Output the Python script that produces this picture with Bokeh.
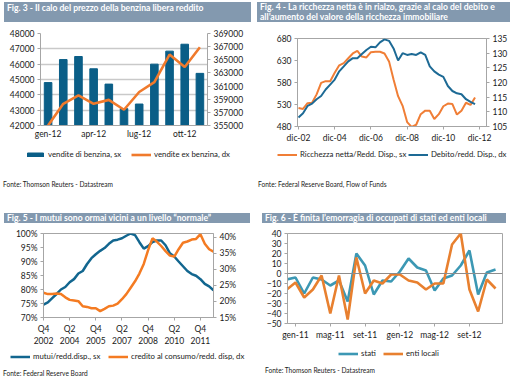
from bokeh.plotting import figure
from bokeh.models import (Range1d, LinearAxis, Legend, LegendItem, Div, FixedTicker,
                          NumeralTickFormatter, Span, Spacer)
from bokeh.layouts import column, row
from bokeh.embed import file_html
from bokeh.resources import INLINE

FONT = "Lato"
TITLE_BG = "#8399AF"
AX = "#A6A6A6"

# ---------------- data ----------------
# Fig. 3
months3 = ["gen-12", "feb-12", "mar-12", "apr-12", "mag-12", "giu-12",
           "lug-12", "ago-12", "set-12", "ott-12", "nov-12"]
benzina = [44800, 46300, 46500, 45700, 44700, 43100, 43400, 46000, 46850, 47300, 45400]
ex_benzina = [355000, 358300, 359600, 358300, 358900, 357400, 360100, 361600, 365800, 363900, 366900]

# Fig. 4 (quarterly, dic-02 .. set-12)
ricchezza = [522, 520, 533, 534, 553, 579, 583, 583, 602, 619, 624, 635, 646, 652,
             639, 637, 649, 650, 650, 646, 628, 587, 549, 527, 490, 479, 484, 508,
             516, 516, 497, 508, 526, 532, 531, 507, 516, 534, 529, 546]
debito = [108.1, 109.5, 112.0, 112.8, 114.3, 115.4, 117.6, 119.3, 121.0, 123.8, 125.5,
          127.2, 128.3, 128.3, 129.7, 131.1, 132.2, 132.0, 133.7, 134.7, 134.2, 131.6,
          127.5, 130.0, 129.4, 129.7, 129.4, 130.3, 129.4, 125.5, 123.8, 122.7, 121.9,
          118.8, 117.1, 116.3, 116.0, 114.3, 113.4, 112.6]
x4_ticks = ["dic-02", "dic-04", "dic-06", "dic-08", "dic-10", "dic-12"]

# Fig. 5 (quarterly, Q4 2002 .. Q3 2012)
mutui = [74.6, 75.4, 76.9, 78.4, 80.0, 80.9, 82.6, 83.7, 85.7, 86.6, 89.1, 91.2, 92.6,
         93.8, 94.8, 96.3, 97.5, 97.8, 98.3, 99.2, 100.0, 99.4, 96.9, 94.6, 95.5, 96.9,
         97.5, 97.5, 95.8, 92.9, 91.8, 90.0, 88.3, 86.6, 85.5, 84.9, 83.7, 82.0, 81.1, 79.7]
credito = [22.7, 22.3, 22.3, 22.5, 22.3, 21.3, 20.5, 20.3, 20.1, 18.5, 18.3, 17.9, 17.9,
           17.0, 17.7, 18.5, 18.7, 19.3, 20.7, 22.3, 24.3, 26.3, 28.7, 31.7, 36.0, 39.7,
           38.7, 37.3, 35.7, 34.3, 34.0, 36.3, 38.3, 38.7, 39.3, 39.5, 41.0, 38.0, 36.3, 35.5]
x5_ticks = ["Q4\n2002", "Q2\n2004", "Q4\n2005", "Q2\n2007", "Q4\n2008", "Q2\n2010", "Q4\n2011"]

# Fig. 6 (monthly, dic-10 .. dic-12)
months6 = ["dic-10",
           "gen-11", "feb-11", "mar-11", "apr-11", "mag-11", "giu-11", "lug-11", "ago-11",
           "set-11", "ott-11", "nov-11", "dic-11",
           "gen-12", "feb-12", "mar-12", "apr-12", "mag-12", "giu-12", "lug-12", "ago-12",
           "set-12", "ott-12", "nov-12", "dic-12"]
stati = [-6, -4, -20, -4, -6, -12, -7, -28, 20, 8, -21, -7, -8,
         2, 15, 6, 3, -17, -5, -2, 8, 23, -21, 1, 4]
enti_locali = [-16, -9, -24, -16, -2, -40, -2, -46, 16, -20, -7, -10, -1,
               -1, -7, -9, -16, -10, -10, 29, 40, -16, -38, -6, -15]


# ---------------- helpers ----------------
def style_axis(ax, size="8.5px"):
    ax.major_label_text_font = FONT
    ax.major_label_text_font_size = size
    ax.major_label_text_color = "#1a1a1a"
    ax.axis_line_color = AX
    ax.major_tick_line_color = AX
    ax.major_tick_in = 0
    ax.major_tick_out = 3
    ax.minor_tick_line_color = None
    ax.major_label_standoff = 3


def title_div(html, top, left, width, height, lh):
    return Div(text=(f'<div style="padding:{top}px 0 0 {left}px;margin:0">'
                     f'<div style="width:{width}px;height:{height}px;background:{TITLE_BG};'
                     f'color:white;font-family:{FONT};font-weight:bold;font-size:8.6px;'
                     f'line-height:{lh}px;padding:0 3px;box-sizing:border-box;'
                     f'white-space:nowrap;overflow:hidden">{html}</div></div>'),
               width=255, height=top + height, margin=(0, 0, 0, 0))


def source_div(text, top, left, height):
    return Div(text=(f'<div style="padding:{top}px 0 0 {left}px;font-family:{FONT};'
                     f'font-size:6.6px;color:#222;line-height:8px;white-space:nowrap">{text}</div>'),
               width=255, height=height, margin=(0, 0, 0, 0))


def legend_item_fig(width, height, label, kind, color, lw):
    """A small axis-less figure that carries one legend entry."""
    lf = figure(width=width, height=height, x_range=Range1d(0, 1), y_range=Range1d(0, 1),
                x_axis_type=None, y_axis_type=None, output_backend="svg",
                toolbar_location=None, min_border_left=0, min_border_right=0,
                min_border_top=0, min_border_bottom=0)
    lf.outline_line_color = None
    lf.xgrid.grid_line_color = None
    lf.ygrid.grid_line_color = None
    # swatch renderer holds points placed outside the visible range
    if kind == "bar":
        r = lf.vbar(x=[-5], top=[-5], bottom=[-6], width=0.1, color=color)
    else:
        r = lf.line(x=[-5, -4], y=[-5, -5], color=color, line_width=lw)
    leg = Legend(items=[LegendItem(label=label, renderers=[r])], location="left")
    leg.label_text_font = FONT
    leg.label_text_font_size = "7.8px"
    leg.label_text_color = "#1a1a1a"
    leg.glyph_width = 20
    leg.glyph_height = 5
    leg.label_height = 9
    leg.label_standoff = 3
    leg.padding = 0
    leg.margin = 0
    leg.border_line_color = None
    leg.background_fill_alpha = 0
    lf.add_layout(leg)
    return lf


def legend_row(height, lead, entries):
    kids = [Spacer(width=lead, height=height)]
    for width, label, kind, color, lw in entries:
        kids.append(legend_item_fig(width, height, label, kind, color, lw))
    return row(*kids, spacing=0)


def base_fig(w, h, xr, yr, mbl, mbr, mbt, mbb):
    p = figure(width=w, height=h, x_range=xr, y_range=yr, output_backend="svg",
               toolbar_location=None, min_border_left=mbl, min_border_right=mbr,
               min_border_top=mbt, min_border_bottom=mbb)
    p.background_fill_color = "white"
    p.border_fill_color = "white"
    p.xgrid.grid_line_color = None
    p.ygrid.grid_line_color = None
    p.outline_line_color = AX
    style_axis(p.xaxis[0])
    style_axis(p.yaxis[0])
    return p


C3_BAR, C3_LINE = "#0A5E87", "#F07A2C"
C4_OR, C4_BL = "#F07E36", "#1D6A95"
C5_BL, C5_OR = "#12668F", "#F47B22"
C6_TE, C6_OR = "#3C98B4", "#E8802F"

# ---------------- Fig. 3 ----------------
x3 = list(range(len(months3)))
p3 = base_fig(255, 123, Range1d(-0.5, 10.5), Range1d(42000, 48000), 40, 48, 11, 20)
p3.outline_line_color = None
p3.ygrid.grid_line_color = "#C9C9C9"
p3.ygrid.grid_line_width = 1.5
p3.yaxis[0].ticker = FixedTicker(ticks=list(range(42000, 48001, 1000)))
p3.yaxis[0].formatter = NumeralTickFormatter(format="0")
p3.extra_y_ranges = {"r": Range1d(355000, 369000)}
ax3r = LinearAxis(y_range_name="r", ticker=FixedTicker(ticks=list(range(355000, 369001, 2000))),
                  formatter=NumeralTickFormatter(format="0"))
style_axis(ax3r)
p3.add_layout(ax3r, "right")
p3.xaxis[0].ticker = FixedTicker(ticks=[0, 3, 6, 9])
p3.xaxis[0].major_label_overrides = {i: months3[i] for i in [0, 3, 6, 9]}
p3.xaxis[0].major_tick_out = 0
p3.vbar(x=x3, top=benzina, bottom=42000, width=0.5, color=C3_BAR)
p3.line(x3, ex_benzina, y_range_name="r", color=C3_LINE, line_width=2.6)
lg3 = legend_row(18, 25, [(106, "vendite di benzina, sx", "bar", C3_BAR, 0),
                          (124, "vendite ex benzina, dx", "line", C3_LINE, 2.6)])

# ---------------- Fig. 4 ----------------
x4 = [2002.917 + 0.25 * i for i in range(len(ricchezza))]
p4 = base_fig(255, 123, Range1d(2002.862, 2013.30), Range1d(480, 680), 42, 22, 16, 17)
p4.yaxis[0].ticker = FixedTicker(ticks=[480, 530, 580, 630, 680])
p4.extra_y_ranges = {"r": Range1d(105, 135)}
ax4r = LinearAxis(y_range_name="r", ticker=FixedTicker(ticks=[105, 110, 115, 120, 125, 130, 135]))
style_axis(ax4r)
p4.add_layout(ax4r, "right")
t4 = [2002.917 + 2 * k for k in range(6)]
p4.xaxis[0].ticker = FixedTicker(ticks=t4)
p4.xaxis[0].major_label_overrides = {t: lab for t, lab in zip(t4, x4_ticks)}
p4.line(x4, ricchezza, color=C4_OR, line_width=2)
p4.line(x4, debito, y_range_name="r", color=C4_BL, line_width=2)
lg4 = legend_row(18, 22, [(131, "Ricchezza netta/Redd. Disp., sx", "line", C4_OR, 2),
                          (102, "Debito/redd. Disp., dx", "line", C4_BL, 2)])

# ---------------- Fig. 5 ----------------
x5 = list(range(len(mutui)))
p5 = base_fig(255, 125, Range1d(0, 39), Range1d(0.70, 1.00), 43, 42, 10, 28)
p5.yaxis[0].ticker = FixedTicker(ticks=[0.70, 0.75, 0.80, 0.85, 0.90, 0.95, 1.00])
p5.yaxis[0].formatter = NumeralTickFormatter(format="0%")
p5.extra_y_ranges = {"r": Range1d(0.15, 0.412)}
ax5r = LinearAxis(y_range_name="r", ticker=FixedTicker(ticks=[0.15, 0.20, 0.25, 0.30, 0.35, 0.40]),
                  formatter=NumeralTickFormatter(format="0%"))
style_axis(ax5r)
p5.add_layout(ax5r, "right")
p5.xaxis[0].ticker = FixedTicker(ticks=[0, 6, 12, 18, 24, 30, 36])
p5.xaxis[0].major_label_overrides = {k * 6: lab for k, lab in enumerate(x5_ticks)}
p5.line(x5, [v / 100 for v in mutui], color=C5_BL, line_width=2.5)
p5.line(x5, [v / 100 for v in credito], y_range_name="r", color=C5_OR, line_width=2.5)
lg5 = legend_row(16, 10, [(98, "mutui/redd.disp., sx", "line", C5_BL, 2.5),
                          (147, "credito al consumo/redd. disp, dx", "line", C5_OR, 2.5)])

# ---------------- Fig. 6 ----------------
x6 = list(range(-1, len(months6) - 1))
p6 = base_fig(255, 122, Range1d(-0.92, 23.8), Range1d(-50, 40), 32, 8, 10, 22)
p6.yaxis[0].ticker = FixedTicker(ticks=list(range(-50, 41, 10)))
p6.xaxis[0].ticker = FixedTicker(ticks=[0, 4, 8, 12, 16, 20])
p6.xaxis[0].major_label_overrides = {i: months6[i + 1] for i in [0, 4, 8, 12, 16, 20]}
p6.add_layout(Span(location=0, dimension="width", line_color="#8C8C8C", line_width=1.2))
p6.line(x6, stati, color=C6_TE, line_width=2.6)
p6.line(x6, enti_locali, color=C6_OR, line_width=2.6)
lg6 = legend_row(16, 83, [(45, "stati", "line", C6_TE, 2.6),
                          (127, "enti locali", "line", C6_OR, 2.6)])

# ---------------- layout ----------------
panel3 = column(title_div("Fig. 3 - Il calo del prezzo della benzina libera reddito", 2, 4, 247, 20, 12),
                p3, lg3, source_div("Fonte: Thomson Reuters - Datastream", 17, 3, 27), spacing=0)
panel4 = column(title_div("Fig. 4 - La ricchezza netta è in rialzo, grazie al calo del debito e<br>"
                          "all\u2019aumento del valore della ricchezza immobiliare", 2, 2, 253, 20, 10),
                p4, lg4, source_div("Fonte: Federal Reserve Board, Flow of Funds", 17, 3, 27), spacing=0)
panel5 = column(title_div("Fig. 5 - I mutui sono ormai vicini a un livello \u201cnormale\u201d", 23, 4, 246, 10, 10),
                p5, lg5, source_div("Fonte: Federal Reserve Board", 2, 3, 13), spacing=0)
panel6 = column(title_div("Fig. 6 - È finita l\u2019emorragia di occupati di stati ed enti locali", 23, 7, 244, 10, 10),
                p6, lg6, source_div("Fonte: Thomson Reuters - Datastream", 4, 10, 16), spacing=0)

layout = column(row(panel3, panel4, spacing=0), row(panel5, panel6, spacing=0), spacing=0)

open("out.html", "w").write(file_html(layout, INLINE))
